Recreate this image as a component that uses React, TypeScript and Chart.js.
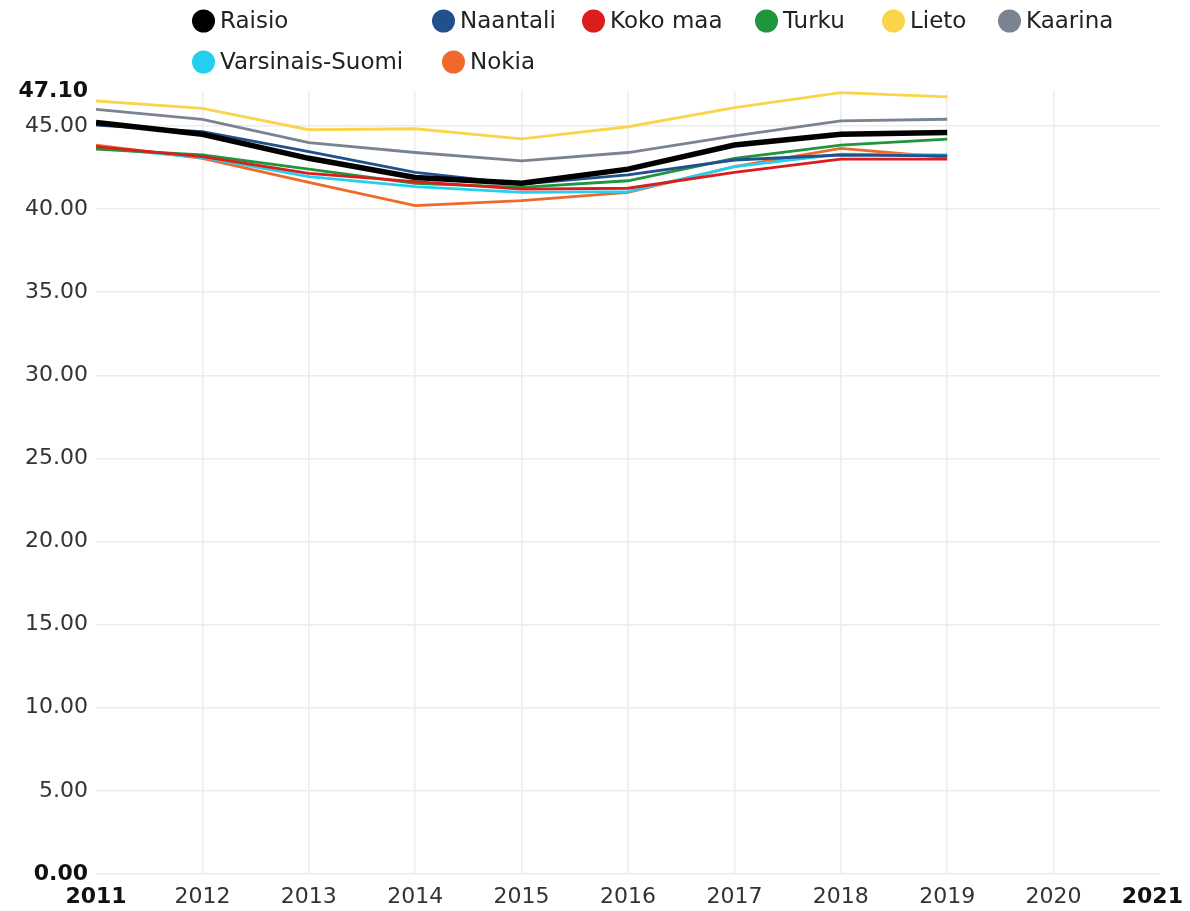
import React, { useEffect, useRef } from "react";
import { Chart, registerables } from "chart.js";

Chart.register(...registerables);

// ---- Data ----
const years = [2011, 2012, 2013, 2014, 2015, 2016, 2017, 2018, 2019];

const seriesNames = [
  "Raisio",
  "Naantali",
  "Koko maa",
  "Turku",
  "Lieto",
  "Kaarina",
  "Varsinais-Suomi",
  "Nokia",
];

const raisio = [45.2, 44.5, 43.05, 41.9, 41.55, 42.4, 43.85, 44.5, 44.6];
const naantali = [45.05, 44.65, 43.45, 42.2, 41.5, 42.05, 42.95, 43.25, 43.2];
const kokoMaa = [43.75, 43.15, 42.15, 41.65, 41.2, 41.25, 42.2, 43.0, 43.0];
const turku = [43.6, 43.25, 42.4, 41.55, 41.3, 41.7, 43.05, 43.85, 44.2];
const lieto = [46.5, 46.05, 44.77, 44.83, 44.22, 44.95, 46.1, 47.0, 46.75];
const kaarina = [46.0, 45.4, 44.0, 43.4, 42.9, 43.4, 44.4, 45.3, 45.4];
const varsinaisSuomi = [43.7, 43.1, 41.95, 41.35, 41.0, 41.05, 42.55, 43.3, 43.25];
const nokia = [43.85, 43.05, 41.6, 40.2, 40.5, 41.0, 42.55, 43.65, 43.1];

const seriesValues = [raisio, naantali, kokoMaa, turku, lieto, kaarina, varsinaisSuomi, nokia];

const yTickValues = [0, 5, 10, 15, 20, 25, 30, 35, 40, 45, 47.1];
const xTickValues = [2011, 2012, 2013, 2014, 2015, 2016, 2017, 2018, 2019, 2020, 2021];

// ---- Styles ----
const colors = ["#000000", "#22508c", "#dd1c1c", "#1f963e", "#fad54c", "#7a8491", "#25d0ef", "#ef6a2a"];
const widths = [5.5, 2.8, 2.8, 2.8, 2.8, 2.8, 2.8, 2.8];
const FONT = '"DejaVu Sans", Verdana, sans-serif';

// legend item positions (circle left x, center y)
const legendPos: [number, number][] = [
  [192, 21],
  [432, 21],
  [582, 21],
  [755, 21],
  [882, 21],
  [998, 21],
  [192, 62],
  [442, 62],
];

const legendPlugin = {
  id: "customLegend",
  afterDraw(chart: any) {
    const ctx = chart.ctx as CanvasRenderingContext2D;
    ctx.save();
    ctx.font = `23px ${FONT}`;
    ctx.textBaseline = "middle";
    ctx.textAlign = "left";
    seriesNames.forEach((name, i) => {
      const [x, y] = legendPos[i];
      ctx.beginPath();
      ctx.fillStyle = colors[i];
      ctx.arc(x + 11.5, y, 11.5, 0, Math.PI * 2);
      ctx.fill();
      ctx.fillStyle = "#222";
      ctx.fillText(name, x + 28, y + 1);
    });
    ctx.restore();
  },
};

const isYBound = (v: number) => v === yTickValues[0] || v === yTickValues[yTickValues.length - 1];
const isXBound = (v: number) => v === xTickValues[0] || v === xTickValues[xTickValues.length - 1];
const lastX = xTickValues[xTickValues.length - 1];

export default function App() {
  const canvasRef = useRef<HTMLCanvasElement | null>(null);

  useEffect(() => {
    if (!canvasRef.current) return;
    const chart = new Chart(canvasRef.current, {
      type: "line",
      data: {
        datasets: seriesNames.map((name, i) => ({
          label: name,
          data: years.map((yr, j) => ({ x: yr, y: seriesValues[i][j] })),
          borderColor: colors[i],
          backgroundColor: colors[i],
          borderWidth: widths[i],
          pointRadius: 0,
          pointHoverRadius: 0,
          tension: 0,
          fill: false,
        })),
      },
      options: {
        animation: false,
        responsive: true,
        maintainAspectRatio: false,
        layout: { padding: { top: 91, right: 30, left: 0, bottom: 0 } },
        plugins: {
          legend: { display: false },
          tooltip: { enabled: false },
          title: { display: false },
        },
        scales: {
          x: {
            type: "linear",
            min: xTickValues[0],
            max: lastX,
            afterBuildTicks: (scale: any) => {
              scale.ticks = xTickValues.map((v) => ({ value: v }));
            },
            afterFit: (scale: any) => {
              scale.height = 37;
              scale.paddingLeft = 0;
              scale.paddingRight = 0;
            },
            border: { display: false },
            grid: {
              drawTicks: false,
              tickLength: 0,
              lineWidth: 1.5,
              color: (c: any) => (c.tick && isXBound(c.tick.value) ? "rgba(0,0,0,0)" : "#ececec"),
            },
            ticks: {
              padding: 10,
              autoSkip: false,
              maxRotation: 0,
              // trailing spaces keep the last label inside the canvas
              callback: (v: any) => (Number(v) === lastX ? String(v) + "\u00a0\u00a0" : String(v)),
              color: (c: any) => (c.tick && isXBound(c.tick.value) ? "#111" : "#333"),
              font: (c: any) => ({
                family: FONT,
                size: 22,
                weight: c.tick && isXBound(c.tick.value) ? "bold" : "normal",
              }),
            },
          },
          y: {
            type: "linear",
            min: yTickValues[0],
            max: yTickValues[yTickValues.length - 1],
            afterBuildTicks: (scale: any) => {
              scale.ticks = yTickValues.map((v) => ({ value: v }));
            },
            afterFit: (scale: any) => {
              scale.width = 96;
            },
            border: { display: false },
            grid: {
              drawTicks: false,
              tickLength: 0,
              lineWidth: 1.5,
              color: (c: any) =>
                c.tick && c.tick.value === yTickValues[yTickValues.length - 1] ? "rgba(0,0,0,0)" : "#ececec",
            },
            ticks: {
              padding: 8,
              autoSkip: false,
              callback: (v: any) => Number(v).toFixed(2),
              color: (c: any) => (c.tick && isYBound(c.tick.value) ? "#111" : "#333"),
              font: (c: any) => ({
                family: FONT,
                size: 22,
                weight: c.tick && isYBound(c.tick.value) ? "bold" : "normal",
              }),
            },
          },
        },
      },
      plugins: [legendPlugin],
    });
    return () => chart.destroy();
  }, []);

  return (
    <div style={{ position: "absolute", left: 0, top: 0, width: 1190, height: 911, background: "#fff" }}>
      <canvas ref={canvasRef} />
    </div>
  );
}
